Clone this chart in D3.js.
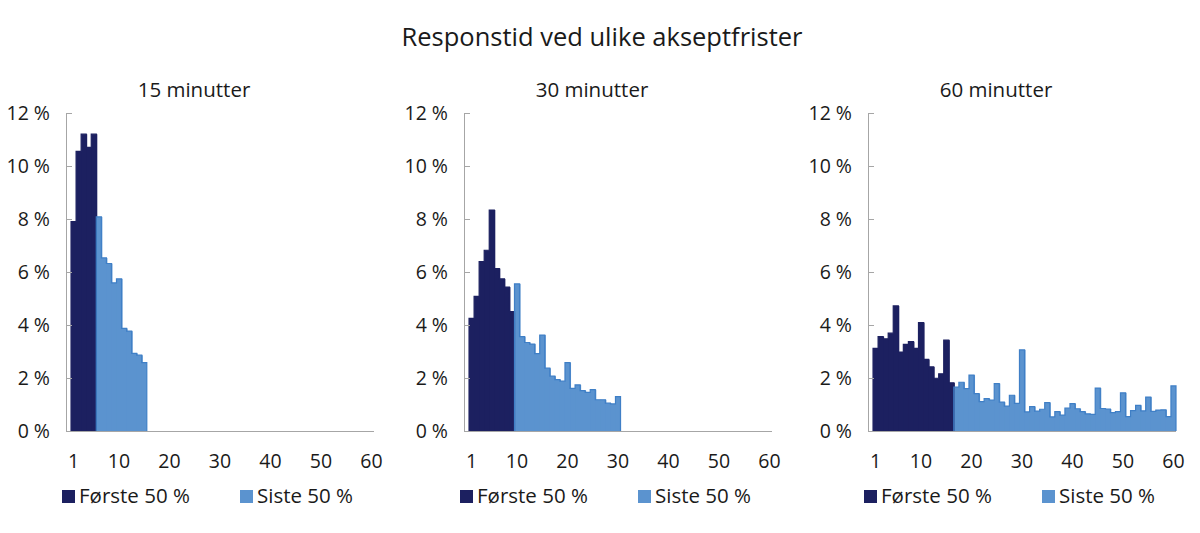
<!DOCTYPE html>
<html>
<head>
<meta charset="utf-8">
<script src="https://cdn.jsdelivr.net/npm/d3@7"></script>
<style>
  body { margin: 0; background: #fff; }
  svg { display: block; font-family: 'Open Sans', 'Noto Sans', sans-serif; }
</style>
</head>
<body>
<div id="chart"></div>
<script>
// Responstid ved ulike akseptfrister - three histograms

// Data (share of responses per minute, in %)
const panelTitles = ['15 minutter', '30 minutter', '60 minutter'];
const seriesNames = ['Første 50 %', 'Siste 50 %'];
const minutes = d3.range(1, 61);
const xTicks = [1, 10, 20, 30, 40, 50, 60];
const yTicks = [0, 2, 4, 6, 8, 10, 12];

const values15 = [7.9, 10.55, 11.2, 10.7, 11.2, 8.08, 6.53, 6.32, 5.59, 5.74,
    3.87, 3.77, 2.93, 2.86, 2.58];
const values30 = [4.25, 5.08, 6.39, 6.82, 8.34, 6.13, 5.74, 5.43, 4.51, 5.55,
    3.56, 3.34, 3.28, 2.92, 3.62, 2.37, 2.07, 1.94, 1.88, 2.58,
    1.61, 1.74, 1.52, 1.46, 1.56, 1.18, 1.18, 1.05, 1.02, 1.30];
const values60 = [3.12, 3.56, 3.48, 3.69, 4.72, 2.98, 3.27, 3.37, 3.12, 4.09,
    2.70, 2.42, 1.99, 2.16, 3.43, 1.82, 1.66, 1.84, 1.60, 2.11,
    1.41, 1.11, 1.22, 1.17, 1.79, 1.09, 0.94, 1.35, 1.04, 3.06,
    0.72, 0.92, 0.75, 0.82, 1.07, 0.53, 0.73, 0.60, 0.86, 1.03,
    0.84, 0.73, 0.65, 0.63, 1.62, 0.85, 0.83, 0.69, 0.73, 1.44,
    0.54, 0.77, 0.97, 0.76, 1.28, 0.74, 0.79, 0.80, 0.54, 1.70];
// number of minutes belonging to the first 50 %
const firstHalf = [5, 9, 16];

const panelValues = [values15, values30, values60];
const colors = ['#1c2060', '#5b93cf'];
const edgeColors = ['#1c2060', '#3f7fc6'];

const svg = d3.select('#chart').append('svg')
    .attr('width', 1200)
    .attr('height', 533);

// Main title
svg.append('text')
    .attr('x', 602)
    .attr('y', 46)
    .attr('text-anchor', 'middle')
    .style('font-size', '25.5px')
    .style('fill', '#1a1a1a')
    .text('Responstid ved ulike akseptfrister');

const axisLefts = [66, 464, 868];
const plotWidth = 308;
const yTop = 113, yBottom = 431;

const yScale = d3.scaleLinear()
    .domain([0, 12])
    .range([yBottom, yTop]);

panelValues.forEach((values, p) => {
    const g = svg.append('g')
        .attr('transform', `translate(${axisLefts[p]},0)`);

    const step = plotWidth / 61;
    const xScale = d3.scaleBand()
        .domain(minutes)
        .range([step, plotWidth])
        .padding(0);

    // Panel title
    g.append('text')
        .attr('x', 128)
        .attr('y', 97)
        .attr('text-anchor', 'middle')
        .style('font-size', '20.5px')
        .style('fill', '#1a1a1a')
        .text(panelTitles[p]);

    // Bars
    const bars = values.map((v, i) => ({minute: minutes[i], value: v, s: i < firstHalf[p] ? 0 : 1}));
    g.selectAll('.bar')
        .data(bars)
        .enter()
        .append('rect')
        .attr('class', 'bar')
        .attr('x', d => xScale(d.minute))
        .attr('y', d => yScale(d.value))
        .attr('width', (d, i) => xScale.bandwidth() + (i < bars.length - 1 ? 1 : 0))
        .attr('height', d => yScale(0) - yScale(d.value))
        .style('fill', d => colors[d.s]);

    // Step outline on top of each series
    [0, 1].forEach(s => {
        const pts = [];
        const sub = bars.filter(d => d.s === s);
        if (!sub.length) return;
        pts.push([xScale(sub[0].minute), yScale(0)]);
        sub.forEach(d => {
            pts.push([xScale(d.minute), yScale(d.value)]);
            pts.push([xScale(d.minute) + xScale.bandwidth(), yScale(d.value)]);
        });
        pts.push([xScale(sub[sub.length - 1].minute) + xScale.bandwidth(), yScale(0)]);
        g.append('path')
            .attr('d', d3.line()(pts))
            .style('fill', 'none')
            .style('stroke', edgeColors[s])
            .style('stroke-width', 1.2);
    });

    // Y axis
    const yAxis = g.append('g')
        .call(d3.axisLeft(yScale)
            .tickValues(yTicks)
            .tickSizeInner(-6)
            .tickSizeOuter(0)
            .tickPadding(16)
            .tickFormat(d => d + ' %'));
    yAxis.select('.domain').style('stroke', '#a6a6a6');
    yAxis.selectAll('.tick line').style('stroke', '#a6a6a6');
    yAxis.selectAll('text')
        .style('font-size', '19.5px')
        .style('font-family', "'Open Sans', sans-serif")
        .style('fill', '#1a1a1a');

    // X axis
    const xAxis = g.append('g')
        .attr('transform', `translate(0,${yBottom})`)
        .call(d3.axisBottom(xScale)
            .tickValues(xTicks)
            .tickSize(0)
            .tickPadding(23));
    xAxis.select('.domain').remove();
    xAxis.selectAll('text')
        .style('font-size', '19.5px')
        .style('font-family', "'Open Sans', sans-serif")
        .style('fill', '#1a1a1a');
    g.append('line')
        .attr('x1', 0)
        .attr('x2', plotWidth)
        .attr('y1', yBottom + 0.5)
        .attr('y2', yBottom + 0.5)
        .style('stroke', '#a6a6a6');

    // Legend
    const legend = g.append('g')
        .attr('transform', 'translate(-4, 490)');
    legend.selectAll('rect')
        .data(seriesNames)
        .enter()
        .append('rect')
        .attr('x', (d, i) => i * 178)
        .attr('y', 0)
        .attr('width', 13)
        .attr('height', 13)
        .style('fill', (d, i) => colors[i]);
    legend.selectAll('text')
        .data(seriesNames)
        .enter()
        .append('text')
        .attr('x', (d, i) => i * 178 + 17)
        .attr('y', 13)
        .style('font-size', '20.5px')
        .style('fill', '#1a1a1a')
        .text(d => d);
});
</script>
</body>
</html>
